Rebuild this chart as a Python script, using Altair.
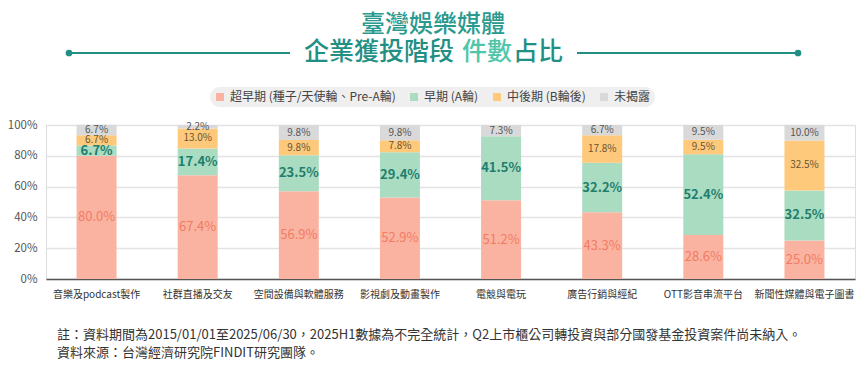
import altair as alt
import pandas as pd

categories = ["音樂及podcast製作", "社群直播及交友", "空間設備與軟體服務", "影視劇及動畫製作",
              "電競與電玩", "廣告行銷與經紀", "OTT影音串流平台", "新聞性媒體與電子圖書"]
series_names = ["超早期 (種子/天使輪、Pre-A輪)", "早期 (A輪)", "中後期 (B輪後)", "未揭露"]
super_early = [80.0, 67.4, 56.9, 52.9, 51.2, 43.3, 28.6, 25.0]
early = [6.7, 17.4, 23.5, 29.4, 41.5, 32.2, 52.4, 32.5]
mid_later = [6.7, 13.0, 9.8, 7.8, 0.0, 17.8, 9.5, 32.5]
undisclosed = [6.7, 2.2, 9.8, 9.8, 7.3, 6.7, 9.5, 10.0]
y_ticks = [0, 20, 40, 60, 80, 100]

bar_colors = ["#fbb3a1", "#a9dcc1", "#fec97b", "#d9d9d9"]
FONT = "Noto Sans CJK TC"

rows = []
all_series = [super_early, early, mid_later, undisclosed]
for ci, c in enumerate(categories):
    cum = 0.0
    for si, s in enumerate(series_names):
        v = all_series[si][ci]
        rows.append({"cat": c, "series": s, "ord": si, "value": v,
                     "mid": cum + v / 2, "label": f"{v:.1f}%"})
        cum += v
df = pd.DataFrame(rows)
lab_df = df[df["value"] > 0]

x_axis = alt.Axis(labelAngle=0, labelFontSize=10, labelColor="#333333",
                  labelFont=FONT, ticks=False, domainColor="#555555",
                  domainWidth=1.5, labelPadding=10, grid=False, title=None)
y_axis = alt.Axis(values=y_ticks, labelExpr="datum.value + '%'",
                  labelFontSize=11.5, labelColor="#555555", labelFont=FONT,
                  labelOverlap=False, labelBound=False, tickCount=6,
                  domain=False, ticks=False, labelPadding=9,
                  gridColor="#e3e3e3", gridWidth=1.5, title=None)
y_scale = alt.Scale(domain=[0, 100], nice=False)

bars = alt.Chart(df).mark_bar(size=40).encode(
    x=alt.X("cat:N", sort=categories, title=None, axis=x_axis),
    y=alt.Y("value:Q", stack="zero", scale=y_scale, title=None, axis=y_axis),
    color=alt.Color("series:N", scale=alt.Scale(domain=series_names, range=bar_colors),
                    legend=alt.Legend(orient="none", legendX=164, legendY=-38,
                                      direction="horizontal", title=None,
                                      fillColor="#efefef", cornerRadius=11,
                                      padding=4, symbolType="square", symbolSize=64,
                                      symbolStrokeWidth=0, labelFontSize=12,
                                      labelColor="#444444", labelFont=FONT,
                                      columnPadding=12, labelLimit=300)),
    order=alt.Order("ord:Q"),
)

label_styles = [
    (series_names[0], 13, "normal", "#f07c64"),
    (series_names[1], 13, "bold", "#1f7e6e"),
    (series_names[2], 10, "normal", "#6b5530"),
    (series_names[3], 10, "normal", "#555555"),
]
text_layers = []
for name, size, weight, color in label_styles:
    t = alt.Chart(lab_df).transform_filter(alt.datum.series == name).mark_text(
        fontSize=size, fontWeight=weight, color=color, font=FONT, baseline="middle"
    ).encode(
        x=alt.X("cat:N", sort=categories, title=None, axis=x_axis),
        y=alt.Y("mid:Q", scale=y_scale, title=None, axis=y_axis),
        text="label:N",
    )
    text_layers.append(t)

one = pd.DataFrame({"t": [""]})
TEAL = "#228f84"
title1 = alt.Chart(pd.DataFrame({"t": ["臺灣娛樂媒體"]})).mark_text(
    fontSize=24, fontWeight=500, color="#2a9a8e", font=FONT, align="center", baseline="middle"
).encode(text="t:N", x=alt.value(387), y=alt.value(-100))
title2a = alt.Chart(pd.DataFrame({"t": ["企業獲投階段"]})).mark_text(
    fontSize=25, fontWeight=500, color=TEAL, font=FONT, align="right", baseline="middle"
).encode(text="t:N", x=alt.value(408), y=alt.value(-73))
title2b = alt.Chart(pd.DataFrame({"t": ["件數"]})).mark_text(
    fontSize=25, fontWeight=500, color="#4fc6a8", font=FONT, align="left", baseline="middle"
).encode(text="t:N", x=alt.value(416), y=alt.value(-73))
title2c = alt.Chart(pd.DataFrame({"t": ["占比"]})).mark_text(
    fontSize=25, fontWeight=500, color=TEAL, font=FONT, align="left", baseline="middle"
).encode(text="t:N", x=alt.value(467), y=alt.value(-73))

rule_l = alt.Chart(one).mark_rule(color=TEAL, strokeWidth=2).encode(
    x=alt.value(23), x2=alt.value(244), y=alt.value(-72))
rule_r = alt.Chart(one).mark_rule(color=TEAL, strokeWidth=2).encode(
    x=alt.value(531), x2=alt.value(752), y=alt.value(-72))
dot_l = alt.Chart(one).mark_point(filled=True, color=TEAL, size=45, opacity=1).encode(
    x=alt.value(23), y=alt.value(-72))
dot_r = alt.Chart(one).mark_point(filled=True, color=TEAL, size=45, opacity=1).encode(
    x=alt.value(752), y=alt.value(-72))

note1 = alt.Chart(pd.DataFrame({"t": ["註：資料期間為2015/01/01至2025/06/30，2025H1數據為不完全統計，Q2上市櫃公司轉投資與部分國發基金投資案件尚未納入。"]})).mark_text(
    fontSize=13, color="#333333", font=FONT, align="left", baseline="middle"
).encode(text="t:N", x=alt.value(11), y=alt.value(210))
note2 = alt.Chart(pd.DataFrame({"t": ["資料來源：台灣經濟研究院FINDIT研究團隊。"]})).mark_text(
    fontSize=13, color="#333333", font=FONT, align="left", baseline="middle"
).encode(text="t:N", x=alt.value(11), y=alt.value(228))

chart = alt.layer(
    bars, *text_layers, title1, title2a, title2b, title2c,
    rule_l, rule_r, dot_l, dot_r, note1, note2
).properties(
    width=809, height=154,
    autosize=alt.AutoSizeParams(type="none"),
    padding={"left": 38, "top": 117, "right": 4, "bottom": 96},
).configure_view(stroke=None).configure(background="white")

chart.save("out.html", embed_options={"renderer": "svg", "actions": False})
